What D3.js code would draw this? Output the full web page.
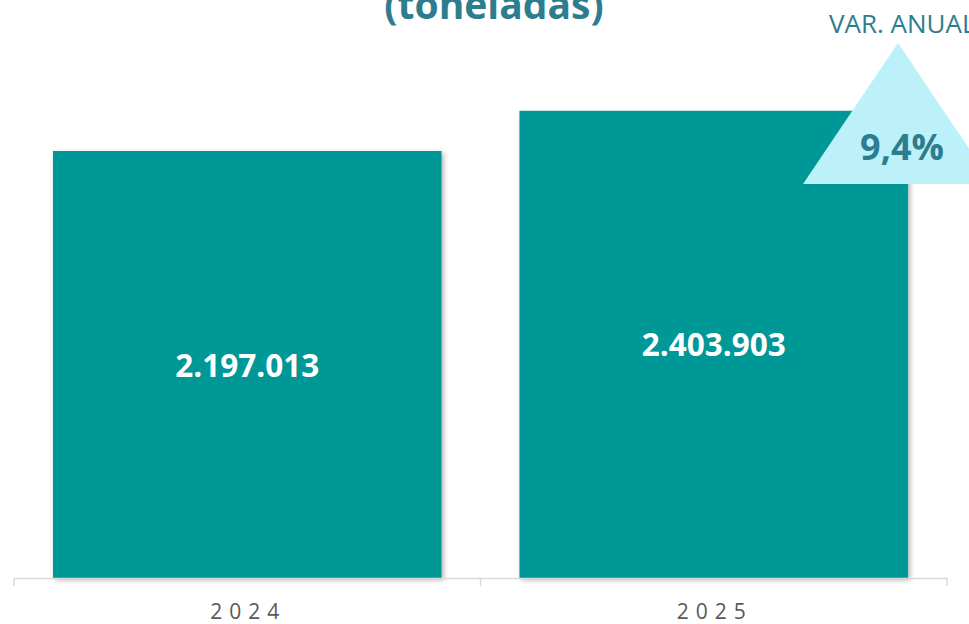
<!DOCTYPE html>
<html>
<head>
<meta charset="utf-8">
<script src="https://cdn.jsdelivr.net/npm/d3@7"></script>
<style>
  html, body { margin: 0; padding: 0; background: #fff; }
  svg { display: block; }
</style>
</head>
<body>
<svg id="chart" width="969" height="624"></svg>
<script>
var years = ["2024", "2025"];
var tons = [2197013, 2403903];
var yearChange = ["9,4%"];

var svg = d3.select("#chart"),
	width = 969,
	height = 624;

var defs = svg.append("defs");
var shadow = defs.append("filter")
	.attr("id", "shadow")
	.attr("x", "-5%").attr("y", "-5%")
	.attr("width", "115%").attr("height", "115%");
shadow.append("feDropShadow")
	.attr("dx", 2).attr("dy", 2)
	.attr("stdDeviation", 2.5)
	.attr("flood-color", "#000")
	.attr("flood-opacity", 0.3);

var x = d3.scaleBand()
	.domain(years)
	.range([14, 947])
	.paddingInner(0.167)
	.paddingOuter(0.0835);

var y = d3.scaleLinear()
	.domain([0, 2974000])
	.range([578, 0]);

// title (cut off at top, as in the original)
svg.append("text")
	.attr("x", 494)
	.attr("y", 19)
	.attr("text-anchor", "middle")
	.style("font-family", "'Open Sans', sans-serif")
	.style("font-weight", 700)
	.style("font-size", "39px")
	.style("fill", "#2e7d8f")
	.text("(toneladas)");

// bars
svg.selectAll(".bar")
	.data(tons)
	.enter().append("rect")
	.attr("class", "bar")
	.attr("x", function(d, i){ return x(years[i]); })
	.attr("y", function(d){ return y(d); })
	.attr("width", x.bandwidth())
	.attr("height", function(d){ return y(0) - y(d); })
	.attr("fill", "#009797")
	.attr("filter", "url(#shadow)");

// value labels
svg.selectAll(".val")
	.data(tons)
	.enter().append("text")
	.attr("class", "val")
	.attr("x", function(d, i){ return x(years[i]) + x.bandwidth() / 2; })
	.attr("y", function(d){ return (y(d) + y(0)) / 2 + 12; })
	.attr("text-anchor", "middle")
	.style("font-family", "'Open Sans', sans-serif")
	.style("font-weight", 700)
	.style("font-size", "31.5px")
	.style("fill", "#fff")
	.text(function(d){ return d3.format(",")(d).replace(/,/g, "."); });

// axis
var axis = svg.append("g")
	.attr("transform", "translate(0,578)")
	.call(d3.axisBottom(x).tickSize(0).tickFormat(""));
axis.select(".domain").attr("stroke", "#d9d9d9").attr("stroke-width", 1.5);
axis.selectAll(".tick").remove();

var edges = [14, x(years[1]) - x.step() * x.paddingInner() / 2, 947];
svg.selectAll(".edge")
	.data(edges)
	.enter().append("line")
	.attr("class", "edge")
	.attr("x1", function(d){ return d; })
	.attr("x2", function(d){ return d; })
	.attr("y1", 578)
	.attr("y2", 586)
	.attr("stroke", "#d9d9d9")
	.attr("stroke-width", 1.5);

svg.selectAll(".yr")
	.data(years)
	.enter().append("text")
	.attr("class", "yr")
	.attr("x", function(d){ return x(d) + x.bandwidth() / 2 + 1; })
	.attr("y", 619)
	.attr("text-anchor", "middle")
	.style("font-family", "'Open Sans', sans-serif")
	.style("font-size", "21px")
	.style("letter-spacing", "7px")
	.style("fill", "#595959")
	.text(function(d){ return d; });

// annual change triangle
svg.append("text")
	.attr("x", 829)
	.attr("y", 33)
	.style("font-family", "'Open Sans', sans-serif")
	.style("font-size", "26px")
	.style("fill", "#2e7d8f")
	.text("VAR. ANUAL");

svg.append("path")
	.attr("d", d3.line()([[898, 43], [803, 184], [993, 184]]) + "Z")
	.attr("fill", "#bdf1f9");

svg.append("text")
	.attr("x", 902)
	.attr("y", 160)
	.attr("text-anchor", "middle")
	.style("font-family", "'Open Sans', sans-serif")
	.style("font-weight", 700)
	.style("font-size", "36px")
	.style("fill", "#2e7d8f")
	.text(yearChange[0]);
</script>
</body>
</html>
